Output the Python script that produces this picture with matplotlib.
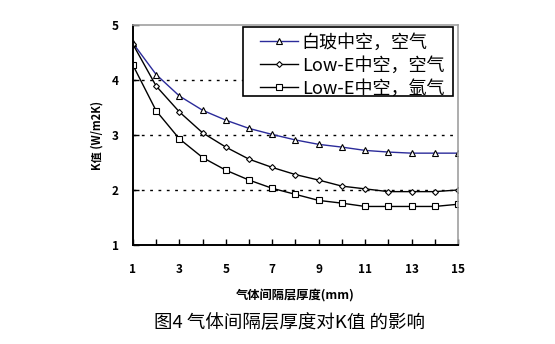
import matplotlib
matplotlib.use("Agg")
import matplotlib.pyplot as plt
from matplotlib.patches import Rectangle

plt.rcParams['font.family'] = ['Noto Sans CJK SC', 'DejaVu Sans']

# Gas gap thickness (mm)
thickness = list(range(1, 16))

# K value (W/m2K) per glazing type
k_clear_air = [4.67, 4.10, 3.71, 3.45, 3.27, 3.12, 3.01, 2.91, 2.83, 2.78,
               2.72, 2.69, 2.67, 2.67, 2.67]
k_lowe_air = [4.65, 3.89, 3.42, 3.04, 2.78, 2.56, 2.41, 2.28, 2.18, 2.07,
              2.02, 1.97, 1.97, 1.97, 2.00]
k_lowe_argon = [4.27, 3.44, 2.93, 2.59, 2.36, 2.18, 2.03, 1.92, 1.81, 1.76,
                1.70, 1.70, 1.70, 1.70, 1.74]

series_labels = ["白玻中空，空气", "Low-E中空，空气", "Low-E中空，氩气"]
x_ticks = [1, 3, 5, 7, 9, 11, 13, 15]
y_ticks = [1, 2, 3, 4, 5]

fig = plt.figure(figsize=(5.55, 3.44), dpi=100)
ax = fig.add_axes([0.2396, 0.288, 0.5856, 0.639])

ax.plot(thickness, k_clear_air, color="#2b2b9a", lw=1.0, marker="^",
        ms=5, mfc="white", mec="black", mew=0.8, label=series_labels[0])
ax.plot(thickness, k_lowe_air, color="black", lw=1.0, marker="D",
        ms=3.0, mfc="white", mec="black", mew=0.8, label=series_labels[1])
ax.plot(thickness, k_lowe_argon, color="black", lw=1.0, marker="s",
        ms=4.3, mfc="white", mec="black", mew=0.8, label=series_labels[2])

ax.set_xlim(1, 15)
ax.set_ylim(1, 5)
ax.set_xticks(range(1, 16))
ax.set_xticklabels([str(v) if v in x_ticks else "" for v in range(1, 16)])
ax.set_yticks(y_ticks)
ax.set_yticklabels([str(v) for v in y_ticks])

for yv in [2, 3, 4]:
    ax.axhline(yv, color="black", lw=1.0, ls=(0, (2, 4)), zorder=0)

ax.tick_params(axis="both", direction="in", length=4, width=1.0,
               labelsize=8.5, pad=10)
for lbl in ax.get_xticklabels() + ax.get_yticklabels():
    lbl.set_fontweight("bold")
ax.tick_params(axis="x", pad=13)

for side in ["left", "bottom"]:
    ax.spines[side].set_color("black")
    ax.spines[side].set_linewidth(1.4)
for side in ["top", "right"]:
    ax.spines[side].set_color("#a0a0a0")
    ax.spines[side].set_linewidth(1.2)

ax.set_xlabel("气体间隔层厚度(mm)", fontsize=8.8, fontweight="bold", labelpad=9)
ax.set_ylabel("K值 (W/m2K)", fontsize=8, fontweight="bold", labelpad=6)

# Legend box drawn separately so it can carry wide inner margins
box = Rectangle((0.338, 0.677), 0.647, 0.314, transform=ax.transAxes,
                facecolor="white", edgecolor="black", lw=1.2, zorder=4)
ax.add_patch(box)
leg = ax.legend(loc="upper right", bbox_to_anchor=(0.958, 0.962),
                fontsize=13, frameon=False, borderpad=0,
                handlelength=2.1, handletextpad=0.2, labelspacing=0.28,
                borderaxespad=0)
leg.set_zorder(5)

fig.text(0.522, 0.062, "图4 气体间隔层厚度对K值 的影响", fontsize=13.3,
         ha="center", va="center")

fig.savefig("out.png", dpi=100, facecolor="white")
